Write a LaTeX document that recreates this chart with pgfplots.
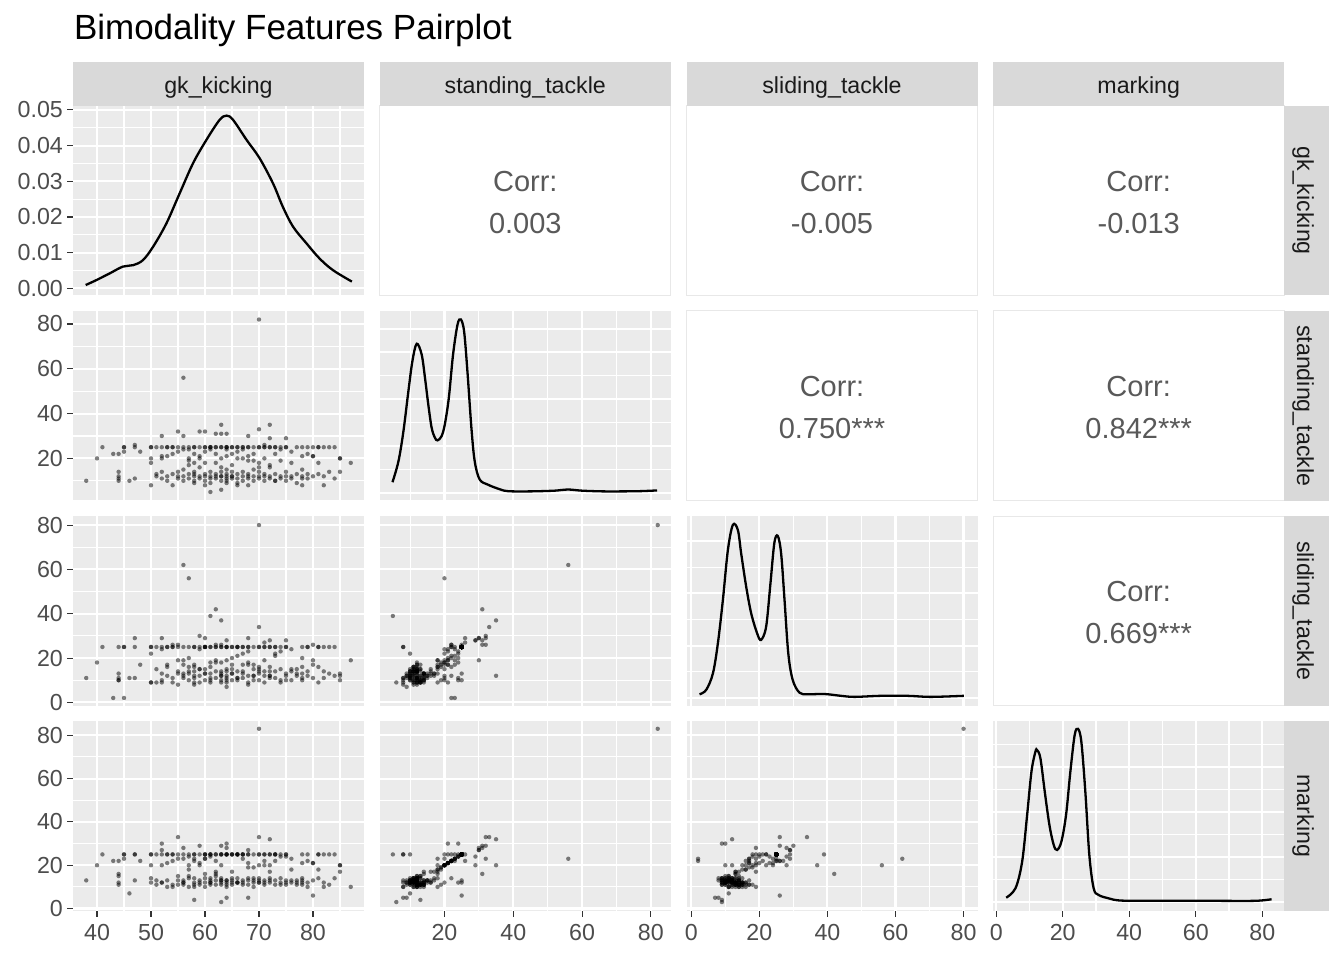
\documentclass[border=0pt]{standalone}
\usepackage{pgfplots}
\pgfplotsset{compat=1.18}
\usepackage{pgfplotstable}
\usepackage{fontspec}
\setmainfont{Liberation Sans}
\definecolor{panelbg}{HTML}{EBEBEB}
\definecolor{stripbg}{HTML}{D9D9D9}
\definecolor{tickcol}{HTML}{4D4D4D}
\definecolor{tickline}{HTML}{333333}
\definecolor{striptext}{HTML}{1A1A1A}
\definecolor{corrtext}{HTML}{595959}
\newcommand\tickfont{\fontsize{11.6}{13}\selectfont}
\newcommand\stripfont{\fontsize{11.6}{13}\selectfont}
\newcommand\corrfont{\fontsize{14.5}{17}\selectfont}

\pgfplotstableread{
gk st sl mk
70 82 80 83
56 56 62 23
57 20 56 20
61 5 39 25
63 6 9 3
62 31 42 16
63 35 37 20
70 33 34 33
72 35 12 32
55 32 26 33
52 30 29 27
64 31 28 28
59 32 30 29
63 31 26 29
68 30 29 27
72 29 28 20
75 29 28 24
56 30 19 28
60 32 29 23
71 26 27 22
80 25 26 6
68 8 8 5
64 9 7 5
58 13 9 4
46 10 11 7
38 10 11 13
40 20 18 20
87 18 19 10
85 20 10 20
85 14 13 17
85 20 12 20
44 14 13 16
44 12 11 15
44 11 10 12
44 10 10 11
43 22 2 22
45 23 2 23
44 22 25 22
41 25 25 25
45 25 25 25
45 25 25 25
47 25 25 25
47 26 29 25
47 11 11 13
48 23 17 22
50 25 25 25
50 25 25 25
50 20 22 20
50 18 9 14
50 8 9 12
52 21 9 30
64 24 10 30
60 8 25 25
66 8 25 25
73 10 22 25
58 18 17 23
67 20 17 23
51 25 25 25
52 25 25 25
53 25 25 25
53 25 25 25
54 25 25 25
54 25 25 25
55 25 25 25
56 25 25 25
57 25 25 25
58 25 25 25
58 25 25 25
59 25 25 25
60 25 25 25
60 25 25 25
61 25 25 25
61 25 25 25
62 25 25 25
62 25 25 25
63 25 25 25
63 25 25 25
64 25 25 25
64 25 25 25
64 25 25 25
65 25 25 25
65 25 25 25
66 25 25 25
66 25 25 25
67 25 25 25
67 25 25 25
68 25 25 25
68 25 25 25
69 25 25 25
70 25 25 25
70 25 25 25
71 25 25 25
71 25 25 25
72 25 25 25
72 25 25 25
73 25 25 25
73 25 25 25
74 25 25 25
75 25 25 25
75 25 25 25
78 25 25 25
79 25 25 25
81 25 25 25
81 25 25 25
82 25 25 25
83 25 25 25
84 25 25 25
52 20 24 20
53 21 17 21
54 22 26 22
55 23 19 23
57 24 20 24
58 22 16 22
59 21 24 21
59 20 15 20
60 23 25 23
61 24 18 24
62 22 26 22
63 20 18 25
64 21 19 25
65 22 20 25
66 23 21 25
67 24 22 25
68 21 23 21
69 19 17 19
70 18 16 20
71 20 19 20
73 22 21 22
74 24 23 24
76 23 24 23
78 21 20 21
79 22 25 22
80 21 19 21
56 24 11 12
61 25 10 13
66 20 11 12
69 22 12 14
74 19 10 11
77 25 13 12
51 12 9 13
51 13 15 11
52 11 13 12
52 14 10 12
53 12 16 10
53 10 12 13
54 13 9 11
54 8 11 10
55 12 14 15
55 11 8 13
55 14 13 11
56 12 17 11
56 10 13 12
56 15 12 13
57 13 10 15
57 11 14 10
57 17 13 14
58 12 8 14
58 10 14 12
58 14 11 10
58 9 12 11
59 12 15 11
59 11 9 13
59 16 12 12
60 12 13 10
60 13 10 14
60 10 15 12
60 18 13 16
61 12 11 14
61 11 16 12
61 14 9 11
61 9 13 12
62 13 11 15
62 11 14 13
62 12 18 11
63 12 10 13
63 12 14 11
63 14 12 12
63 10 12 14
63 16 13 13
64 12 15 12
64 11 9 13
64 13 12 10
64 15 11 13
64 10 14 11
65 12 10 14
65 11 15 12
65 14 13 11
65 12 17 13
66 13 10 12
66 11 14 14
66 9 11 12
67 12 14 11
67 14 11 13
67 10 13 12
68 12 9 14
68 13 17 11
68 11 12 13
69 12 15 10
69 15 12 13
69 10 10 12
70 12 14 13
70 14 10 12
70 11 13 14
70 16 15 12
71 12 12 11
71 10 14 13
71 13 9 12
72 12 11 14
72 11 16 12
72 17 12 13
73 13 14 11
73 10 11 13
74 12 9 12
74 11 15 14
75 12 13 11
75 14 10 13
75 10 12 12
76 12 14 13
76 11 10 12
77 13 15 11
77 9 12 13
78 12 11 14
78 15 13 12
78 11 16 11
78 8 10 13
79 13 12 12
79 11 14 10
80 12 11 13
81 13 9 14
82 12 14 12
82 8 11 10
83 14 13 11
84 11 12 14
57 19 16 18
62 18 19 17
65 17 13 17
68 19 18 19
72 16 14 17
76 18 15 18
80 21 17 21
81 18 16 18
}\players

\pgfplotstableread{
x y
37.9 0.00093
39.9 0.00233
42.35 0.0042
44.8 0.0061
46.7 0.0065
48.5 0.0079
50.4 0.0117
52.85 0.0182
55.3 0.0266
57.8 0.0351
60.26 0.0416
62.7 0.0472
64.0 0.0484
65.2 0.0472
67.7 0.0416
70.1 0.0365
72.6 0.0294
74.4 0.0229
76.3 0.0173
78.8 0.0126
81.2 0.0084
83.7 0.0051
87.2 0.0019
}\dgk

\pgfplotstableread{
x y
4.89 0.00453
6.63 0.0135
8.07 0.0263
9.51 0.0434
10.67 0.0562
11.93 0.0637
13.37 0.0591
14.34 0.0491
15.3 0.0377
16.27 0.0278
17.23 0.0235
18.0 0.0224
19.16 0.0242
20.1 0.0292
21.27 0.0406
22.5 0.0591
23.8 0.0719
24.74 0.0741
25.7 0.0691
26.67 0.052
27.83 0.0278
28.79 0.0135
30.23 0.0057
32.6 0.0035
35.5 0.0018
38.4 0.0007
45 0.0006
52 0.0009
55.8 0.0014
60 0.0009
66 0.0006
72 0.0006
77 0.0007
81.8 0.0010
}\dst

\pgfplotstableread{
x y
2.44 0.0014
4.4 0.0031
6.36 0.0094
7.82 0.0209
9.29 0.0375
10.76 0.0566
12.23 0.0662
13.7 0.0642
14.66 0.0553
16.13 0.0426
17.6 0.0324
19.35 0.0247
20.5 0.0222
22.0 0.0273
23.27 0.0439
24.4 0.0592
25.4 0.062
26.4 0.0553
27.4 0.0375
28.5 0.0171
29.8 0.0069
31.8 0.002
34.2 0.0014
39.1 0.0015
44 0.0008
47.9 0.0004
55.7 0.0008
63.5 0.0008
70.4 0.0004
80.1 0.0008
}\dsl

\pgfplotstableread{
x y
3.0 0.0018
5.8 0.006
7.8 0.0178
9.3 0.0385
10.6 0.0578
11.8 0.0667
12.3 0.0674
13.3 0.0637
14.6 0.0489
16.0 0.0341
17.3 0.0252
18.3 0.023
19.6 0.0267
21.0 0.0385
22.3 0.0578
23.6 0.0741
24.6 0.0768
25.6 0.0711
26.8 0.0489
28.0 0.0208
29.3 0.006
30.8 0.003
33.8 0.0015
37.8 0.0005
50 0.0004
65 0.0004
77.8 0.0004
82.8 0.0011
}\dmk

\pgfplotsset{
  panel/.style={width=145.5pt,height=94.75pt,scale only axis,anchor=south west,
    axis line style={draw=none},
    axis background/.style={fill=panelbg},
    grid=both,
    major grid style={draw=white,line width=1.07pt},
    minor grid style={draw=white,line width=0.53pt},
    tick align=outside,
    major tick length=3pt, minor tick length=0pt,
    tick style={draw=tickline,line width=0.53pt},
    x tick style={draw=none}, y tick style={draw=none},
    xtick pos=bottom, ytick pos=left,
    scaled ticks=false,
    every tick label/.append style={font=\tickfont,text=tickcol,inner sep=0pt},
    /pgf/number format/assume math mode=true,
  },
  nox/.style={xticklabels={}},
  noy/.style={yticklabels={}},
  showx/.style={x tick style={draw=tickline},xticklabel style={anchor=center,yshift=-8.2pt}},
  showy/.style={y tick style={draw=tickline},yticklabel style={anchor=east,xshift=-1.85pt}},
  colgk/.style={xmin=35.55,xmax=89.45,xtick={40,50,60,70,80},minor xtick={45,55,65,75,85}},
  colst/.style={xmin=1.2,xmax=85.8,xtick={20,40,60,80},minor xtick={10,30,50,70}},
  colsl/.style={xmin=-1.4,xmax=84.1,xtick={0,20,40,60,80},minor xtick={10,30,50,70}},
  colmk/.style={xmin=-0.9,xmax=86.6,xtick={0,20,40,60,80},minor xtick={10,30,50,70}},
  rowst/.style={ymin=1.2,ymax=85.8,ytick={20,40,60,80},minor ytick={10,30,50,70}},
  rowsl/.style={ymin=-1.4,ymax=84.1,ytick={0,20,40,60,80},minor ytick={10,30,50,70}},
  rowmk/.style={ymin=-0.9,ymax=86.6,ytick={0,20,40,60,80},minor ytick={10,30,50,70}},
  pts/.style={only marks,mark=*,mark size=1.1pt,color=black,
    mark options={solid,fill=black,draw=black,line width=0pt,draw opacity=0,fill opacity=0.5}},
  dens/.style={black,line width=1.15pt,smooth,tension=0.55,no markers},
}

\newcommand\corrpanel[3]{%
  \filldraw[fill=white,draw=gray!18,line width=0.5pt] (#1,#2) rectangle ++(145.5pt,94.75pt);
  \node[font=\corrfont,text=corrtext,inner sep=0pt] at ([shift={(72.75pt,56.875pt)}]#1,#2) {Corr:};
  \node[font=\corrfont,text=corrtext,inner sep=0pt] at ([shift={(72.75pt,36.175pt)}]#1,#2) {#3};
}

\begin{document}
\begin{tikzpicture}
\useasboundingbox (0pt,0pt) rectangle (672pt,480pt);
\fill[white] (0pt,0pt) rectangle (672pt,480pt);

% title
\node[anchor=base west,font=\fontsize{17.5}{20}\selectfont,inner sep=0pt] at (36.8pt,460pt) {Bimodality Features Pairplot};

% ---------- row 1
\begin{axis}[panel,colgk,nox,showy,at={(36.5pt,332.25pt)},
  ymin=-0.002,ymax=0.0511,ytick={0,0.01,0.02,0.03,0.04,0.05},
  minor ytick={0.005,0.015,0.025,0.035,0.045},
  yticklabel style={/pgf/number format/.cd,fixed,fixed zerofill,precision=2}]
\addplot[dens] table[x=x,y=y]{\dgk};
\end{axis}

% ---------- row 2
\begin{axis}[panel,colgk,rowst,nox,showy,at={(36.5pt,229.75pt)}]
\addplot[pts] table[x=gk,y=st]{\players};
\end{axis}
\begin{axis}[panel,colst,nox,noy,at={(189.9pt,229.75pt)},
  ymin=-0.0033,ymax=0.0777,ytick={0,0.02,0.04,0.06},minor ytick={0.01,0.03,0.05,0.07}]
\addplot[dens] table[x=x,y=y]{\dst};
\end{axis}

% ---------- row 3
\begin{axis}[panel,colgk,rowsl,nox,showy,at={(36.5pt,127.25pt)}]
\addplot[pts] table[x=gk,y=sl]{\players};
\end{axis}
\begin{axis}[panel,colst,rowsl,nox,noy,at={(189.9pt,127.25pt)}]
\addplot[pts] table[x=st,y=sl]{\players};
\end{axis}
\begin{axis}[panel,colsl,nox,noy,at={(343.25pt,127.25pt)},
  ymin=-0.0029,ymax=0.0696,ytick={0,0.02,0.04,0.06},minor ytick={0.01,0.03,0.05}]
\addplot[dens] table[x=x,y=y]{\dsl};
\end{axis}

% ---------- row 4
\begin{axis}[panel,colgk,rowmk,showx,showy,at={(36.5pt,24.75pt)}]
\addplot[pts] table[x=gk,y=mk]{\players};
\end{axis}
\begin{axis}[panel,colst,rowmk,showx,noy,at={(189.9pt,24.75pt)}]
\addplot[pts] table[x=st,y=mk]{\players};
\end{axis}
\begin{axis}[panel,colsl,rowmk,showx,noy,at={(343.25pt,24.75pt)}]
\addplot[pts] table[x=sl,y=mk]{\players};
\end{axis}
\begin{axis}[panel,colmk,showx,noy,at={(496.6pt,24.75pt)},
  ymin=-0.0039,ymax=0.0803,ytick={0,0.02,0.04,0.06},minor ytick={0.01,0.03,0.05,0.07}]
\addplot[dens] table[x=x,y=y]{\dmk};
\end{axis}

% ---------- correlation panels
\corrpanel{189.9pt}{332.25pt}{0.003}
\corrpanel{343.25pt}{332.25pt}{-0.005}
\corrpanel{496.6pt}{332.25pt}{-0.013}
\corrpanel{343.25pt}{229.75pt}{0.750***}
\corrpanel{496.6pt}{229.75pt}{0.842***}
\corrpanel{496.6pt}{127.25pt}{0.669***}

% ---------- top strips
\fill[stripbg] (36.5pt,427pt) rectangle ++(145.5pt,22pt);
\fill[stripbg] (189.9pt,427pt) rectangle ++(145.5pt,22pt);
\fill[stripbg] (343.25pt,427pt) rectangle ++(145.5pt,22pt);
\fill[stripbg] (496.6pt,427pt) rectangle ++(145.5pt,22pt);
\node[anchor=base,font=\stripfont,text=striptext,inner sep=0pt] at (109.25pt,433.35pt) {gk\_kicking};
\node[anchor=base,font=\stripfont,text=striptext,inner sep=0pt] at (262.65pt,433.35pt) {standing\_tackle};
\node[anchor=base,font=\stripfont,text=striptext,inner sep=0pt] at (416pt,433.35pt) {sliding\_tackle};
\node[anchor=base,font=\stripfont,text=striptext,inner sep=0pt] at (569.35pt,433.35pt) {marking};

% ---------- right strips
\fill[stripbg] (642.1pt,332.25pt) rectangle ++(22.5pt,94.75pt);
\fill[stripbg] (642.1pt,229.75pt) rectangle ++(22.5pt,94.75pt);
\fill[stripbg] (642.1pt,127.25pt) rectangle ++(22.5pt,94.75pt);
\fill[stripbg] (642.1pt,24.75pt) rectangle ++(22.5pt,94.75pt);
\node[anchor=base,rotate=-90,font=\stripfont,text=striptext,inner sep=0pt] at (648.6pt,379.625pt) {gk\_kicking};
\node[anchor=base,rotate=-90,font=\stripfont,text=striptext,inner sep=0pt] at (648.6pt,277.125pt) {standing\_tackle};
\node[anchor=base,rotate=-90,font=\stripfont,text=striptext,inner sep=0pt] at (648.6pt,174.625pt) {sliding\_tackle};
\node[anchor=base,rotate=-90,font=\stripfont,text=striptext,inner sep=0pt] at (648.6pt,72.125pt) {marking};
\end{tikzpicture}
\end{document}
